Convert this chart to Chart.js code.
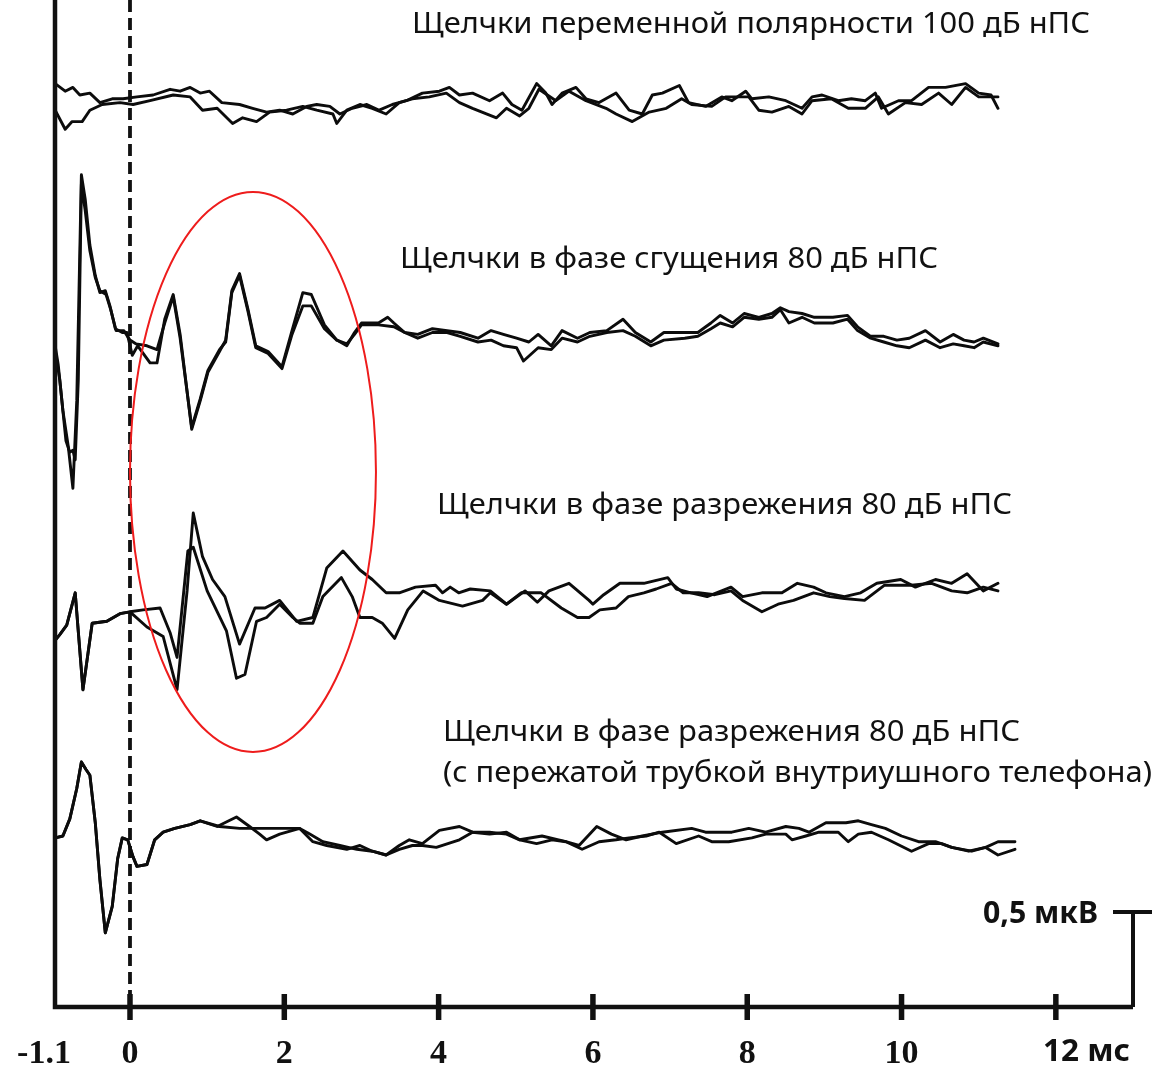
<!DOCTYPE html>
<html lang="ru">
<head>
<meta charset="utf-8">
<title>Щелчки — ответы</title>
<script src="https://cdn.jsdelivr.net/npm/chart.js@4.4.1/dist/chart.umd.min.js"></script>
<style>
  html, body { margin: 0; padding: 0; background: #fff; }
  #wrap { width: 1157px; height: 1065px; position: relative; }
</style>
</head>
<body>
<div id="wrap"><canvas id="abr"></canvas></div>
<script>
// time in ms, amplitude in µV relative to each trace's own baseline
const alt100A = [[-0.97,0.09],[-0.84,0.05],[-0.74,0.07],[-0.65,0.03],[-0.52,0.04],[-0.39,-0.01],[-0.23,0.01],[-0.09,0.01],[0.09,0.02],[0.30,0.03],[0.52,0.06],[0.65,0.05],[0.78,0.07],[0.91,0.04],[1.03,0.05],[1.19,-0.01],[1.42,-0.02],[1.59,-0.04],[1.77,-0.06],[1.94,-0.05],[2.11,-0.07],[2.29,-0.03],[2.42,-0.02],[2.59,-0.03],[2.72,-0.07],[2.88,-0.04],[3.07,-0.02],[3.23,-0.05],[3.40,-0.02],[3.58,0],[3.79,0.04],[4.01,0.05],[4.14,0.07],[4.27,0.03],[4.44,0.04],[4.66,0],[4.83,0.04],[4.95,-0.02],[5.08,-0.05],[5.27,0.09],[5.39,0.04],[5.47,-0.02],[5.60,0.04],[5.78,0.07],[5.91,0.01],[6.08,-0.01],[6.30,0.04],[6.47,-0.05],[6.64,-0.07],[6.77,0.03],[6.90,0.04],[7.12,0.08],[7.24,-0.01],[7.46,-0.03],[7.67,0.02],[7.80,0],[7.98,0.05],[8.06,0.01],[8.28,0.02],[8.50,0],[8.71,-0.04],[8.84,0.02],[8.97,0.03],[9.18,0],[9.35,0.01],[9.53,0],[9.66,0.04],[9.74,-0.04],[9.96,0],[10.13,0],[10.35,0.07],[10.57,0.07],[10.83,0.09],[11.00,0.04],[11.16,0.03],[11.25,-0.04]];
const alt100B = [[-0.97,-0.05],[-0.84,-0.15],[-0.75,-0.11],[-0.62,-0.11],[-0.52,-0.05],[-0.36,-0.02],[-0.13,-0.01],[0.04,-0.02],[0.26,0],[0.56,0.03],[0.78,0.02],[0.94,-0.05],[1.13,-0.04],[1.33,-0.12],[1.46,-0.09],[1.64,-0.11],[1.81,-0.06],[2.03,-0.05],[2.24,-0.03],[2.42,-0.05],[2.63,-0.07],[2.68,-0.12],[2.81,-0.05],[2.98,-0.02],[3.14,-0.04],[3.32,-0.07],[3.49,-0.01],[3.66,0.01],[3.88,0.02],[4.10,0.04],[4.27,-0.01],[4.44,-0.04],[4.75,-0.09],[4.88,-0.04],[5.05,-0.08],[5.17,-0.04],[5.30,0.06],[5.52,0],[5.69,0.05],[5.91,0],[6.17,-0.04],[6.30,-0.07],[6.51,-0.11],[6.73,-0.06],[6.95,-0.04],[7.15,0.01],[7.28,-0.02],[7.54,-0.03],[7.72,0.02],[8.02,0.02],[8.15,-0.05],[8.32,-0.06],[8.54,-0.03],[8.71,-0.07],[8.84,0],[9.09,0.01],[9.31,-0.04],[9.53,-0.04],[9.70,0.02],[9.83,-0.07],[10.05,-0.01],[10.26,-0.02],[10.48,0.04],[10.65,-0.02],[10.83,0.07],[11.00,0.02],[11.25,0.02]];

const cond80A = [[-0.97,-0.03],[-0.93,-0.13],[-0.87,-0.37],[-0.80,-0.56],[-0.74,-0.78],[-0.69,-0.32],[-0.63,0.87],[-0.58,0.74],[-0.52,0.50],[-0.45,0.34],[-0.39,0.25],[-0.32,0.26],[-0.26,0.18],[-0.19,0.06],[-0.10,0.04],[-0.04,0.04],[0.03,-0.08],[0.10,-0.03],[0.26,-0.12],[0.35,-0.12],[0.45,0.11],[0.56,0.24],[0.65,0.03],[0.80,-0.47],[0.91,-0.32],[1.01,-0.17],[1.16,-0.06],[1.24,0],[1.32,0.26],[1.42,0.35],[1.53,0.16],[1.63,-0.03],[1.79,-0.06],[1.97,-0.14],[2.10,0.05],[2.24,0.25],[2.35,0.24],[2.52,0.08],[2.68,0],[2.81,-0.03],[2.91,0.04],[3.00,0.09],[3.22,0.09],[3.34,0.12],[3.42,0.09],[3.56,0.04],[3.73,0.03],[3.92,0.06],[4.11,0.05],[4.28,0.04],[4.51,0.01],[4.68,0.05],[4.84,0.03],[5.01,0.01],[5.17,-0.01],[5.29,0.03],[5.46,-0.03],[5.60,0.05],[5.80,0.01],[5.96,0.04],[6.18,0.05],[6.39,0.11],[6.55,0.04],[6.75,-0.01],[6.92,0.04],[7.19,0.04],[7.36,0.04],[7.53,0.09],[7.65,0.13],[7.81,0.09],[7.96,0.14],[8.15,0.12],[8.32,0.14],[8.43,0.17],[8.54,0.15],[8.71,0.14],[8.87,0.12],[9.11,0.12],[9.30,0.13],[9.43,0.07],[9.60,0.02],[9.77,0.02],[9.94,0],[10.10,0.01],[10.31,0.05],[10.50,-0.01],[10.67,0.03],[10.81,0],[10.94,-0.01],[11.06,0.01],[11.25,-0.02]];
const cond80B = [[-0.97,-0.05],[-0.91,-0.21],[-0.83,-0.53],[-0.78,-0.59],[-0.74,-0.58],[-0.71,-0.63],[-0.67,-0.21],[-0.63,0.82],[-0.58,0.68],[-0.52,0.47],[-0.45,0.33],[-0.39,0.26],[-0.31,0.24],[-0.25,0.16],[-0.18,0.05],[-0.08,0.05],[0,0],[0.08,-0.02],[0.22,-0.03],[0.35,-0.05],[0.45,0.09],[0.56,0.23],[0.65,0.01],[0.80,-0.46],[0.91,-0.31],[1.01,-0.16],[1.16,-0.05],[1.24,-0.01],[1.32,0.25],[1.42,0.34],[1.53,0.15],[1.63,-0.04],[1.79,-0.07],[1.97,-0.15],[2.10,0.03],[2.24,0.18],[2.35,0.18],[2.52,0.06],[2.68,0],[2.81,-0.02],[2.91,0.03],[3.00,0.08],[3.22,0.08],[3.42,0.07],[3.56,0.04],[3.73,0.01],[3.92,0.04],[4.11,0.04],[4.28,0.02],[4.51,-0.01],[4.68,0],[4.84,-0.03],[5.01,-0.04],[5.10,-0.11],[5.29,-0.04],[5.46,-0.05],[5.60,0.01],[5.80,-0.01],[5.96,0.02],[6.18,0.04],[6.39,0.05],[6.55,0.02],[6.75,-0.03],[6.92,0],[7.19,0.01],[7.36,0.02],[7.53,0.06],[7.65,0.09],[7.81,0.07],[7.96,0.12],[8.15,0.11],[8.32,0.12],[8.43,0.16],[8.54,0.09],[8.71,0.12],[8.87,0.09],[9.11,0.09],[9.30,0.11],[9.43,0.05],[9.60,0.01],[9.77,-0.01],[9.94,-0.03],[10.10,-0.04],[10.31,0],[10.50,-0.04],[10.67,-0.02],[10.81,-0.03],[10.94,-0.04],[11.06,-0.01],[11.25,-0.03]];

const rar80A = [[-0.97,-0.21],[-0.91,-0.18],[-0.82,-0.13],[-0.71,0.04],[-0.61,-0.47],[-0.49,-0.12],[-0.30,-0.11],[-0.13,-0.07],[0,-0.06],[0.22,-0.14],[0.43,-0.19],[0.61,-0.47],[0.74,0.05],[0.82,0.46],[0.94,0.23],[1.07,0.11],[1.23,0.02],[1.42,-0.23],[1.62,-0.04],[1.75,-0.04],[1.94,0],[2.16,-0.11],[2.37,-0.09],[2.55,0.17],[2.76,0.26],[2.98,0.16],[3.14,0.11],[3.32,0.04],[3.49,0.04],[3.70,0.07],[3.96,0.08],[4.05,0.04],[4.15,0.07],[4.26,0.04],[4.41,0.06],[4.67,0.05],[4.88,-0.02],[5.12,0.05],[5.28,-0.01],[5.43,0.05],[5.69,0.09],[5.95,0],[6.00,-0.02],[6.14,0.03],[6.35,0.09],[6.56,0.09],[6.66,0.09],[6.97,0.12],[7.08,0.06],[7.27,0.04],[7.48,0.02],[7.79,0.07],[7.94,0.02],[8.19,0.04],[8.45,0.04],[8.65,0.09],[8.86,0.07],[9.02,0.04],[9.26,0.02],[9.47,0.04],[9.68,0.09],[9.99,0.11],[10.18,0.07],[10.44,0.11],[10.65,0.09],[10.85,0.14],[11.06,0.05],[11.25,0.09]];
const rar80B = [[-0.97,-0.21],[-0.91,-0.18],[-0.82,-0.13],[-0.71,0.04],[-0.61,-0.47],[-0.49,-0.12],[-0.30,-0.11],[-0.13,-0.07],[0,-0.06],[0.17,-0.05],[0.39,-0.04],[0.52,-0.17],[0.61,-0.30],[0.75,0.26],[0.82,0.28],[1.00,0.05],[1.25,-0.16],[1.38,-0.41],[1.49,-0.39],[1.64,-0.11],[1.77,-0.09],[1.94,-0.02],[2.11,-0.09],[2.20,-0.12],[2.37,-0.12],[2.50,0.02],[2.74,0.12],[2.88,0.02],[2.98,-0.09],[3.14,-0.09],[3.27,-0.12],[3.43,-0.20],[3.60,-0.05],[3.80,0.05],[4.01,0],[4.31,-0.03],[4.57,0],[4.67,0.04],[4.88,-0.02],[5.07,0.04],[5.33,0.04],[5.59,-0.04],[5.80,-0.09],[5.95,-0.09],[6.09,-0.05],[6.30,-0.04],[6.46,0.02],[6.66,0.04],[6.82,0.06],[7.02,0.09],[7.17,0.04],[7.37,0.04],[7.58,0.03],[7.79,0.05],[7.94,0],[8.19,-0.06],[8.40,-0.02],[8.60,0],[8.86,0.04],[9.07,0.02],[9.26,0.01],[9.52,0],[9.78,0.08],[10.13,0.08],[10.39,0.09],[10.65,0.05],[10.85,0.04],[11.06,0.07],[11.25,0.05]];

const clampA = [[-0.97,-0.02],[-0.87,-0.01],[-0.78,0.08],[-0.69,0.24],[-0.63,0.38],[-0.57,0.34],[-0.52,0.31],[-0.45,0.06],[-0.39,-0.24],[-0.32,-0.52],[-0.23,-0.38],[-0.16,-0.13],[-0.10,-0.02],[-0.03,-0.03],[0.04,-0.12],[0.09,-0.17],[0.22,-0.16],[0.32,-0.03],[0.43,0.01],[0.58,0.03],[0.78,0.05],[0.91,0.07],[1.13,0.04],[1.38,0.09],[1.55,0.04],[1.68,0],[1.77,-0.03],[1.94,0],[2.20,0.03],[2.37,-0.04],[2.55,-0.06],[2.81,-0.08],[2.98,-0.06],[3.14,-0.09],[3.32,-0.11],[3.49,-0.06],[3.62,-0.03],[3.79,-0.05],[4.01,0.02],[4.27,0.04],[4.44,0.01],[4.66,0],[4.88,0.01],[5.05,-0.03],[5.34,-0.01],[5.65,-0.04],[5.82,-0.06],[6.05,0.04],[6.24,0],[6.43,-0.03],[6.64,-0.01],[6.90,0.01],[7.28,0.03],[7.46,0.01],[7.80,0.01],[8.02,0.03],[8.24,0.01],[8.50,0.04],[8.67,0.03],[8.80,0.01],[9.02,0.06],[9.28,0.06],[9.44,0.07],[9.61,0.05],[9.79,0.03],[10.00,-0.01],[10.22,-0.04],[10.44,-0.04],[10.65,-0.07],[10.87,-0.09],[11.09,-0.07],[11.25,-0.04],[11.47,-0.04]];
const clampB = [[-0.97,-0.02],[-0.87,-0.01],[-0.78,0.08],[-0.69,0.24],[-0.63,0.38],[-0.57,0.34],[-0.52,0.31],[-0.45,0.06],[-0.39,-0.24],[-0.32,-0.52],[-0.23,-0.38],[-0.16,-0.13],[-0.10,-0.02],[-0.03,-0.03],[0.04,-0.12],[0.09,-0.17],[0.22,-0.16],[0.32,-0.03],[0.43,0.01],[0.58,0.03],[0.78,0.05],[0.91,0.07],[1.16,0.04],[1.42,0.03],[1.64,0.03],[1.85,0.03],[2.20,0.03],[2.33,0],[2.50,-0.04],[2.72,-0.06],[2.94,-0.08],[3.14,-0.09],[3.32,-0.11],[3.49,-0.08],[3.66,-0.06],[3.79,-0.06],[3.97,-0.07],[4.27,-0.03],[4.44,0.01],[4.66,0.01],[4.88,0],[5.05,-0.03],[5.27,-0.05],[5.47,-0.03],[5.65,-0.04],[5.86,-0.08],[6.08,-0.04],[6.30,-0.03],[6.47,-0.02],[6.69,-0.01],[6.86,0.01],[7.08,-0.05],[7.37,-0.01],[7.54,-0.04],[7.76,-0.04],[8.06,-0.02],[8.24,0],[8.50,0],[8.58,-0.03],[8.76,-0.01],[8.93,0.01],[9.18,0.01],[9.31,-0.04],[9.44,0],[9.61,0.01],[9.83,-0.03],[10.13,-0.09],[10.35,-0.05],[10.52,-0.05],[10.65,-0.07],[10.91,-0.09],[11.09,-0.07],[11.25,-0.11],[11.47,-0.08]];

// vertical offset (µV) of each recording pair, top to bottom
const baselines = [4.77, 3.51, 2.14, 0.91];

const panelTitles = [
  'Щелчки переменной полярности 100 дБ нПС',
  'Щелчки в фазе сгущения 80 дБ нПС',
  'Щелчки в фазе разрежения 80 дБ нПС',
  'Щелчки в фазе разрежения 80 дБ нПС',
  '(с пережатой трубкой внутриушного телефона)'
];

const xTicks = [0, 2, 4, 6, 8, 10, 12];
const xTickLabels = ['0', '2', '4', '6', '8', '10', '12 мс'];
const startLabel = '-1.1';
const scaleBarValue = 0.5;
const scaleBarLabel = '0,5 мкВ';

const xMin = -0.972, xMax = 13.0;
const yMax = 5.3;

const traces = [
  [alt100A, alt100B],
  [cond80A, cond80B],
  [rar80A, rar80B],
  [clampA, clampB]
];

const datasets = [];
traces.forEach((pair, i) => {
  pair.forEach(series => {
    datasets.push({
      data: series.map(([t, v]) => ({ x: t, y: baselines[i] + v })),
      borderColor: '#0c0c0c',
      borderWidth: 2.9,
      borderJoinStyle: 'round',
      borderCapStyle: 'round',
      pointRadius: 0,
      tension: 0,
      fill: false
    });
  });
});

// text placement: [left, baseline, width]
const titlePlaces = [[412, 33, 678], [400, 268, 538], [437, 514, 575], [443, 741, 577], [443, 782, 709]];

function fitText(ctx, text, x, y, width) {
  const w = ctx.measureText(text).width;
  ctx.save();
  ctx.translate(x, y);
  ctx.scale(width / w, 1);
  ctx.fillText(text, 0, 0);
  ctx.restore();
}

const figurePlugin = {
  id: 'figure',
  beforeDatasetsDraw(chart) {
    const { ctx, chartArea } = chart;
    const xs = chart.scales.x;
    const x0 = xs.getPixelForValue(0);
    // stimulus onset marker
    ctx.save();
    ctx.strokeStyle = '#111';
    ctx.lineWidth = 3.8;
    ctx.setLineDash([12, 6]);
    ctx.beginPath();
    ctx.moveTo(x0, chartArea.top);
    ctx.lineTo(x0, chartArea.bottom - 6);
    ctx.stroke();
    ctx.restore();
  },
  afterDraw(chart) {
    const { ctx, chartArea } = chart;
    const xs = chart.scales.x, ys = chart.scales.y;
    const left = chartArea.left, bottom = chartArea.bottom, right = chartArea.right;

    ctx.save();
    ctx.strokeStyle = '#111';
    ctx.fillStyle = '#111';
    ctx.lineCap = 'butt';

    // axes
    ctx.lineWidth = 4.5;
    ctx.beginPath();
    ctx.moveTo(left, chartArea.top);
    ctx.lineTo(left, bottom);
    ctx.lineTo(right, bottom);
    ctx.stroke();

    // tick marks crossing the time axis
    ctx.lineWidth = 5.5;
    xTicks.forEach(t => {
      const px = xs.getPixelForValue(t);
      ctx.beginPath();
      ctx.moveTo(px, bottom - 13);
      ctx.lineTo(px, bottom + 13);
      ctx.stroke();
    });

    // amplitude calibration bar
    const barTop = ys.getPixelForValue(scaleBarValue);
    ctx.lineWidth = 4;
    ctx.beginPath();
    ctx.moveTo(right, bottom);
    ctx.lineTo(right, barTop);
    ctx.moveTo(right - 20, barTop);
    ctx.lineTo(right + 19, barTop);
    ctx.stroke();

    // tick labels
    ctx.font = 'bold 34px "Liberation Serif", "DejaVu Serif", serif';
    ctx.textAlign = 'center';
    ctx.textBaseline = 'alphabetic';
    ctx.fillText(startLabel, left - 11, 1063);
    xTicks.forEach((t, i) => {
      if (i === xTicks.length - 1) return;
      ctx.fillText(xTickLabels[i], xs.getPixelForValue(t), 1063);
    });
    ctx.textAlign = 'left';
    ctx.font = 'bold 30px "Noto Sans", sans-serif';
    fitText(ctx, xTickLabels[xTickLabels.length - 1], 1043, 1061, 87);
    fitText(ctx, scaleBarLabel, 983, 923, 115);

    // condition titles
    ctx.font = '29px "Noto Sans", sans-serif';
    panelTitles.forEach((txt, i) => {
      const [x, y, w] = titlePlaces[i];
      fitText(ctx, txt, x, y, w);
    });

    // highlighted response window
    const cx = xs.getPixelForValue(1.594), cy = ys.getPixelForValue(2.816);
    const rx = xs.getPixelForValue(1.594 + 1.594) - cx;
    const ry = cy - ys.getPixelForValue(2.816 + 1.474);
    ctx.strokeStyle = '#ee1c1c';
    ctx.lineWidth = 2;
    ctx.beginPath();
    ctx.ellipse(cx, cy, rx, ry, 0, 0, Math.PI * 2);
    ctx.stroke();
    ctx.restore();
  }
};

new Chart(document.getElementById('abr'), {
  type: 'line',
  data: { datasets },
  options: {
    responsive: true,
    maintainAspectRatio: false,
    animation: false,
    layout: { padding: { left: 55, right: 24, top: 0, bottom: 58 } },
    scales: {
      x: { type: 'linear', min: xMin, max: xMax, display: false },
      y: { type: 'linear', min: 0, max: yMax, display: false }
    },
    plugins: { legend: { display: false }, tooltip: { enabled: false } }
  },
  plugins: [figurePlugin]
});
</script>
</body>
</html>
